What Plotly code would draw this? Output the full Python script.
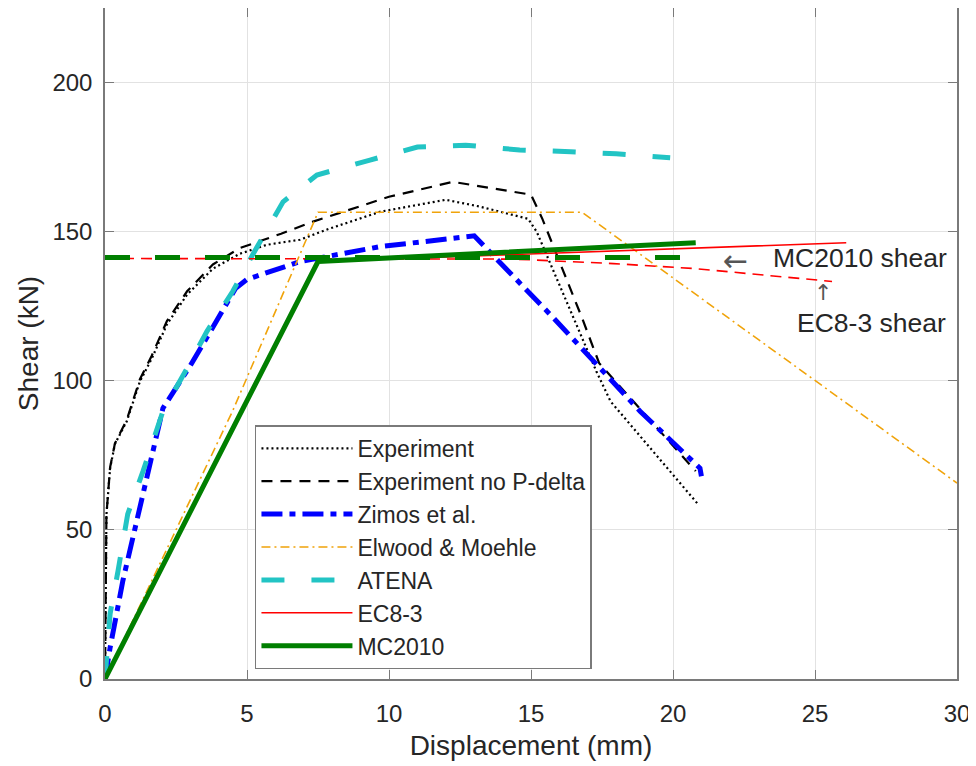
import plotly.graph_objects as go

# ---- data ----
exp_x = [0, 0.05, 0.18, 0.35, 0.77, 1.23, 1.65, 2.18, 2.89, 3.8, 4.75, 5.7, 6.87, 7.9, 9.7, 12.0, 13.2, 14.9, 15.2, 15.8, 16.5, 17.3, 17.8, 18.6, 20.9]
exp_y = [0, 55, 70.7, 78.8, 86.5, 99.8, 107.5, 118.9, 128.9, 137.6, 142.6, 145.6, 147.3, 151, 156.7, 160.7, 158.4, 154.3, 150, 136.6, 121, 103.2, 93.1, 84.2, 58.4]

nopd_x = [0, 0.05, 0.18, 0.35, 0.77, 1.23, 1.65, 2.18, 2.89, 3.8, 4.75, 5.7, 6.2, 7.3, 10.0, 12.25, 15.0, 15.4, 16.8, 17.4, 20.8]
nopd_y = [0, 55, 71, 79, 87, 100.5, 108.5, 120, 130, 139, 144.5, 147.5, 149.3, 153.3, 161.7, 166.7, 162.4, 154.3, 121, 105.9, 69.7]

zimos_x = [0, 0.18, 0.63, 1.23, 1.69, 2.04, 3.0, 4.6, 5.0, 6.87, 9.7, 12.6, 13.0, 15.8, 18.84, 20.95, 21.0]
zimos_y = [0, 10.5, 33, 57.4, 76.4, 90.8, 105, 131, 134, 140, 145, 148.3, 148.6, 121, 89.8, 70.7, 68]

elw_x = [0, 4.5, 7.5, 16.8, 30]
elw_y = [0, 90, 156.5, 156.5, 65.7]

atena_x = [0, 0.18, 0.46, 0.8, 1.34, 2.04, 2.89, 3.59, 4.5, 5.2, 6.27, 7.46, 9.33, 11.0, 12.7, 14.6, 16.4, 18.0, 19.9]
atena_y = [0, 21.9, 36.3, 55.3, 69.7, 89.8, 104.2, 116.6, 130, 142.3, 160, 169, 174, 178.4, 179, 177.4, 176.8, 176.1, 174.8]

ec8_x = [0, 7.5, 26.1]
ec8_y = [0, 140, 146.3]

ec8s_x = [0, 8, 14.4, 17.9, 20.8, 25.6]
ec8s_y = [141, 141, 140.8, 139.3, 137.6, 133.3]

mc_x = [0, 7.5, 20.8]
mc_y = [0, 140, 146.3]

mcs_x = [0, 20.3]
mcs_y = [141.3, 141.3]

x_ticks = [0, 5, 10, 15, 20, 25, 30]
y_ticks = [0, 50, 100, 150, 200]

FONT = "Liberation Sans, Arial, Helvetica, sans-serif"
TXT = "#262626"
AX = "#7a7a7a"

fig = go.Figure()

def add(x, y, name, color, width, dash, show=True):
    fig.add_trace(go.Scatter(x=x, y=y, mode="lines", name=name, showlegend=show,
                             line=dict(color=color, width=width, dash=dash)))

add(exp_x, exp_y, "Experiment", "#000000", 2.2, "2px,3px")
add(nopd_x, nopd_y, "Experiment no P-delta", "#000000", 2.2, "11px,8px")
add(zimos_x, zimos_y, "Zimos et al.", "#0000ff", 5, "21px,7px,6px,7px")
add(elw_x, elw_y, "Elwood & Moehle", "#f0a30a", 1.6, "9px,4px,2px,4px")
add(atena_x, atena_y, "ATENA", "#22c4c4", 5, "23px,27px")
add(ec8s_x, ec8s_y, "EC8-3 shear", "#ff0000", 1.6, "11px,7px", show=False)
add(ec8_x, ec8_y, "EC8-3", "#ff0000", 1.6, "solid")
add(mcs_x, mcs_y, "MC2010 shear", "#007f00", 5, "25px,25px", show=False)
add(mc_x, mc_y, "MC2010", "#007f00", 5, "solid")

fig.add_annotation(x=22.2, y=140.2, text="←", showarrow=False, xanchor="center", yanchor="middle",
                   font=dict(size=30, color="#555555", family="DejaVu Sans"))
fig.add_annotation(x=23.45, y=141.1, text="MC2010 shear", showarrow=False, xanchor="left", yanchor="middle",
                   font=dict(size=26.5, color=TXT, family=FONT))
fig.add_annotation(x=25.27, y=129.5, text="↑", showarrow=False, xanchor="center", yanchor="middle",
                   font=dict(size=22, color="#555555", family="DejaVu Sans"))
fig.add_annotation(x=24.3, y=119.3, text="EC8-3 shear", showarrow=False, xanchor="left", yanchor="middle",
                   font=dict(size=26.5, color=TXT, family=FONT))

axis_common = dict(showline=True, linecolor=AX, linewidth=1.5, mirror="ticks",
                   ticks="inside", ticklen=9, tickcolor=AX, showgrid=True,
                   gridcolor="#e2e2e2", gridwidth=1, zeroline=False, automargin=False,
                   tickfont=dict(size=24, color=TXT, family=FONT))

fig.update_xaxes(range=[0, 30], tickvals=x_ticks, ticktext=[str(v) for v in x_ticks],
                 title=dict(text="Displacement (mm)", font=dict(size=28, color=TXT, family=FONT), standoff=10),
                 ticklabelstandoff=12, **axis_common)
fig.update_yaxes(range=[0, 225], tickvals=y_ticks, ticktext=[str(v) for v in y_ticks],
                 title=dict(text="Shear (kN)", font=dict(size=28, color=TXT, family=FONT), standoff=6),
                 ticklabelstandoff=6, **axis_common)

# page body has an 8px margin, so the figure is 8px smaller and offset accordingly
fig.update_layout(
    width=968, height=758,
    margin=dict(l=97, r=19, t=0, b=87),
    paper_bgcolor="white", plot_bgcolor="white",
    font=dict(family=FONT, color=TXT),
    legend=dict(x=0.176, y=0.378, xanchor="left", yanchor="top",
                bgcolor="white", bordercolor=AX, borderwidth=1.5,
                font=dict(size=23, color=TXT, family=FONT),
                tracegroupgap=0, itemwidth=91),
)

fig.write_html("out.html")
